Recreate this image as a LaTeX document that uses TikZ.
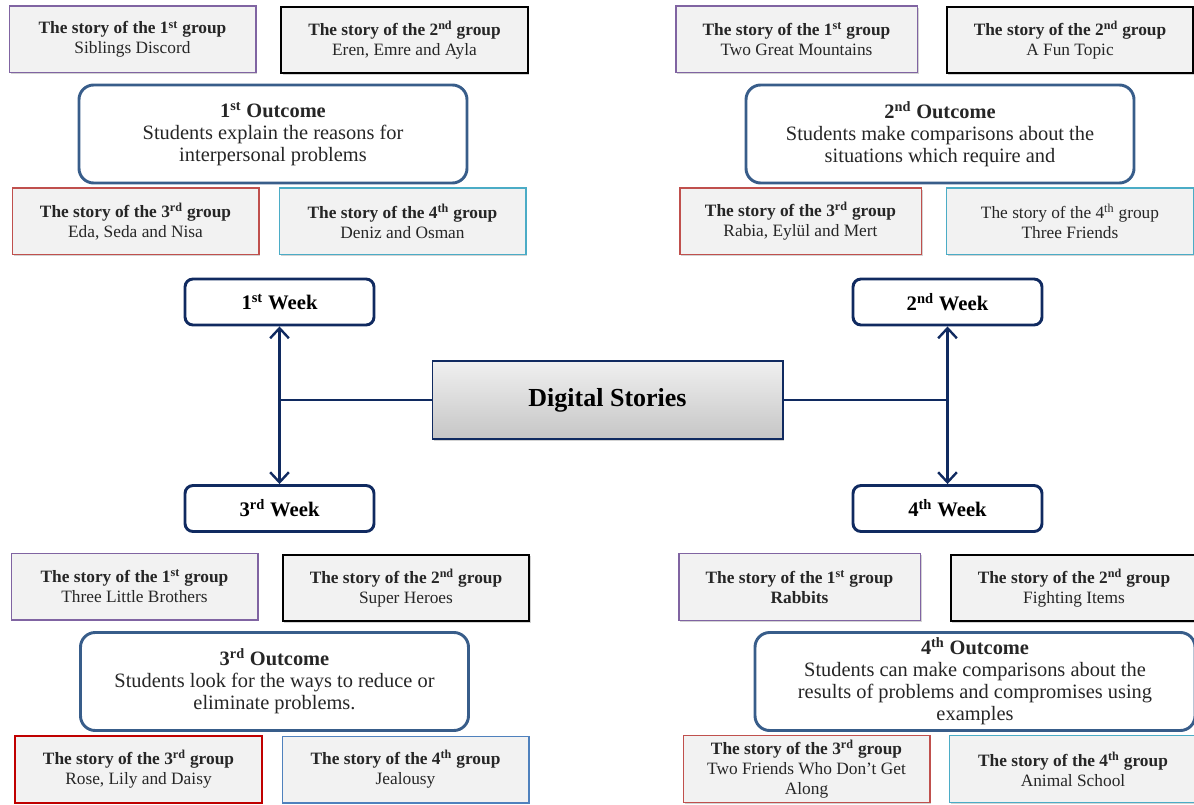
\documentclass[tikz,border=0pt]{standalone}
\usepackage{fontspec}
\setmainfont{Liberation Serif}
\usetikzlibrary{shadows,arrows.meta}
\definecolor{boxgray}{RGB}{242,242,242}
\definecolor{grppurple}{RGB}{128,100,162}
\definecolor{grpred}{RGB}{192,80,77}
\definecolor{grpdarkred}{RGB}{192,0,0}
\definecolor{grpcyan}{RGB}{75,172,198}
\definecolor{grpblue}{RGB}{79,129,189}
\definecolor{outblue}{RGB}{56,93,138}
\definecolor{navy}{RGB}{16,42,96}
\definecolor{txtgray}{RGB}{38,38,38}
\begin{document}
\begin{tikzpicture}[x=0.75pt,y=-0.75pt,
  grp/.style={draw, fill=boxgray, line width=1pt, minimum width=185pt, minimum height=50pt,
    align=center, inner sep=1pt, text=txtgray, font=\fontsize{13}{15}\selectfont,
    drop shadow={opacity=0.35, shadow xshift=1.2pt, shadow yshift=-1.2pt}},
  outc/.style={draw=outblue, fill=white, line width=2.2pt, rounded corners=11pt,
    minimum width=291pt, minimum height=73.5pt, align=center, inner sep=1pt,
    text=txtgray, font=\fontsize{15.3}{16.5}\selectfont},
  week/.style={draw=navy, fill=white, line width=2.2pt, rounded corners=6pt,
    minimum width=141.75pt, minimum height=34.5pt, font=\bfseries\fontsize{15.5}{18}\selectfont},
  link/.style={draw=navy, line width=1.8pt},
  twoway/.style={link, {Straight Barb[length=7.5pt,width=14pt]}-{Straight Barb[length=7.5pt,width=14pt]}}]
\useasboundingbox (0,0) rectangle (1194,805);
\clip (0,0) rectangle (1194,805);

% centre
\node[draw=navy, line width=1pt, top color=gray!12, bottom color=gray!45,
  minimum width=263pt, minimum height=58.5pt, font=\bfseries\fontsize{19.5}{22}\selectfont,
  drop shadow={opacity=0.35, shadow xshift=1.2pt, shadow yshift=-1.2pt}]
  (ds) at (607.5,400) {Digital Stories};

\node[week] (w1) at (279.5,302) {1\textsuperscript{st} Week};
\node[week] (w3) at (279.5,508.5) {3\textsuperscript{rd} Week};
\node[week] (w2) at (947.5,302) {2\textsuperscript{nd} Week};
\node[week] (w4) at (947.5,508.5) {4\textsuperscript{th} Week};

\draw[link] (ds.west) -- (ds.west -| w1.south);
\draw[link] (ds.east) -- (ds.east -| w2.south);
\draw[twoway] (w1.south) -- (w3.north);
\draw[twoway] (w2.south) -- (w4.north);

% first week
\node[grp, draw=grppurple] (a1) at (132.5,39.5) {\textbf{The story of the 1\textsuperscript{st} group}\\Siblings Discord};
\node[grp, draw=black, line width=1.5pt] (a2) at (404.5,40) {\textbf{The story of the 2\textsuperscript{nd} group}\\Eren, Emre and Ayla};
\node[outc] (o1) at (273,134) {\textbf{1\textsuperscript{st} Outcome}\\Students explain the reasons for\\interpersonal problems};
\node[grp, draw=grpred] (a3) at (135.5,221.5) {\textbf{The story of the 3\textsuperscript{rd} group}\\Eda, Seda and Nisa};
\node[grp, draw=grpcyan] (a4) at (402.5,221.5) {\textbf{The story of the 4\textsuperscript{th} group}\\Deniz and Osman};

% second week
\node[grp, draw=grppurple, minimum width=181pt] (b1) at (796.5,39.5) {\textbf{The story of the 1\textsuperscript{st} group}\\Two Great Mountains};
\node[grp, draw=black, line width=1.5pt] (b2) at (1070,40) {\textbf{The story of the 2\textsuperscript{nd} group}\\A Fun Topic};
\node[outc] (o2) at (940,134) {\textbf{2\textsuperscript{nd} Outcome}\\Students make comparisons about the\\situations which require and};
\node[grp, draw=grpred, minimum width=181pt] (b3) at (800.5,221.5) {\textbf{The story of the 3\textsuperscript{rd} group}\\Rabia, Eylül and Mert};
\node[grp, draw=grpcyan] (b4) at (1070,221.5) {The story of the 4\textsuperscript{th} group\\Three Friends};

% third week
\node[grp, draw=grppurple] (c1) at (134.5,586.5) {\textbf{The story of the 1\textsuperscript{st} group}\\Three Little Brothers};
\node[grp, draw=black, line width=1.5pt] (c2) at (406,588) {\textbf{The story of the 2\textsuperscript{nd} group}\\Super Heroes};
\node[outc] (o3) at (274.5,681.5) {\textbf{3\textsuperscript{rd} Outcome}\\Students look for the ways to reduce or\\eliminate problems.};
\node[grp, draw=grpdarkred, line width=1.3pt] (c3) at (138.5,769.5) {\textbf{The story of the 3\textsuperscript{rd} group}\\Rose, Lily and Daisy};
\node[grp, draw=grpblue] (c4) at (405.5,769.5) {\textbf{The story of the 4\textsuperscript{th} group}\\Jealousy};

% fourth week
\node[grp, draw=grppurple, minimum width=181pt] (d1) at (799.5,587) {\textbf{The story of the 1\textsuperscript{st} group}\\\textbf{Rabbits}};
\node[grp, draw=black, line width=1.5pt] (d2) at (1074,588) {\textbf{The story of the 2\textsuperscript{nd} group}\\Fighting Items};
\node[outc, minimum width=330pt] (o4) at (975,681.5) {\textbf{4\textsuperscript{th} Outcome}\\Students can make comparisons about the\\results of problems and compromises using\\examples};
\node[grp, draw=grpred] (d3) at (806.5,769) {\textbf{The story of the 3\textsuperscript{rd} group}\\Two Friends Who Don't Get\\Along};
\node[grp, draw=grpcyan] (d4) at (1073,769) {\textbf{The story of the 4\textsuperscript{th} group}\\Animal School};

\end{tikzpicture}
\end{document}
